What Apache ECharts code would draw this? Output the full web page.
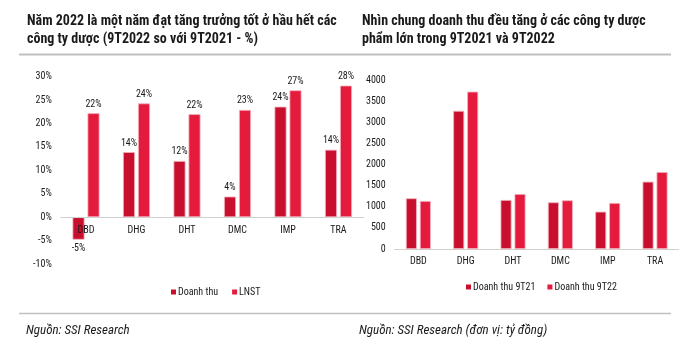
<!DOCTYPE html>
<html>
<head>
<meta charset="utf-8">
<script src="https://cdn.jsdelivr.net/npm/echarts@6/dist/echarts.min.js"></script>
<style>
html,body{margin:0;padding:0;background:#fff;}
#c{width:697px;height:357px;}
</style>
</head>
<body>
<div id="c"></div>
<script>
const categories = ['DBD', 'DHG', 'DHT', 'DMC', 'IMP', 'TRA'];
const growthRevenue = [-4.8, 13.9, 12.0, 4.4, 23.6, 14.4];
const growthProfit = [22.2, 24.3, 22.0, 22.9, 27.1, 28.1];
const revenue9T21 = [1200, 3270, 1160, 1105, 884, 1594];
const revenue9T22 = [1136, 3724, 1302, 1152, 1089, 1822];
const leftTitle = 'Năm 2022 là một năm đạt tăng trưởng tốt ở hầu hết các\ncông ty dược (9T2022 so với 9T2021 - %)';
const rightTitle = 'Nhìn chung doanh thu đều tăng ở các công ty dược\nphẩm lớn trong 9T2021 và 9T2022';
const leftSource = 'Nguồn: SSI Research';
const rightSource = 'Nguồn: SSI Research (đơn vị: tỷ đồng)';

const FONT = "'Liberation Sans Narrow', 'Arial Narrow', 'Roboto Condensed', 'Liberation Sans', sans-serif";
const DARK = '#C8102E';
const BRIGHT = '#E41B3C';
const TXT = '#1a1a1a';

const pctMin = -10, pctMax = 30;
const leftGridHeight = 187.3;

const chart = echarts.init(document.getElementById('c'));

function pctData(arr) {
  return arr.map(v => ({ value: v, label: { position: v < 0 ? 'bottom' : 'top' } }));
}

const barStyle = c => ({ color: c, borderColor: '#f3b3bc', borderWidth: 0.8 });

chart.setOption({
  animation: false,
  textStyle: { fontFamily: FONT },
  grid: [
    { left: 60.75, width: 303, top: 76.7, height: leftGridHeight },
    { left: 394.7, width: 284, top: 80, height: 169 }
  ],
  legend: [
    {
      data: ['Doanh thu', 'LNST'], left: 166, top: 282,
      icon: 'rect', itemWidth: 5, itemHeight: 5, itemGap: 14,
      itemStyle: { borderWidth: 0 },
      textStyle: { fontFamily: FONT, fontSize: 10, color: TXT, padding: [0, 0, 0, -3] }
    },
    {
      data: ['Doanh thu 9T21', 'Doanh thu 9T22'], left: 461, top: 277,
      icon: 'rect', itemWidth: 5, itemHeight: 5, itemGap: 12,
      itemStyle: { borderWidth: 0 },
      textStyle: { fontFamily: FONT, fontSize: 10, color: TXT, padding: [0, 0, 0, -3] }
    }
  ],
  xAxis: [
    {
      type: 'category', gridIndex: 0, data: categories, position: 'bottom', z: 5,
      offset: -leftGridHeight * (0 - pctMin) / (pctMax - pctMin),
      axisLine: { onZero: false, lineStyle: { color: '#d0d0d0' } }, axisTick: { show: false },
      axisLabel: { color: TXT, fontSize: 10, fontFamily: FONT, margin: 8 }
    },
    {
      type: 'category', gridIndex: 1, data: categories,
      axisLine: { lineStyle: { color: '#d0d0d0' } }, axisTick: { show: false },
      axisLabel: { color: TXT, fontSize: 10, fontFamily: FONT, margin: 7 }
    }
  ],
  yAxis: [
    {
      type: 'value', gridIndex: 0, min: pctMin, max: pctMax, interval: 5,
      splitLine: { show: false }, axisLine: { show: false }, axisTick: { show: false },
      axisLabel: { color: TXT, fontSize: 10, fontFamily: FONT, margin: 9, formatter: '{value}%' }
    },
    {
      type: 'value', gridIndex: 1, min: 0, max: 4000, interval: 500,
      splitLine: { show: false }, axisLine: { show: false }, axisTick: { show: false },
      axisLabel: { color: TXT, fontSize: 10, fontFamily: FONT, margin: 9, formatter: v => String(v) }
    }
  ],
  series: [
    {
      name: 'Doanh thu', type: 'bar', xAxisIndex: 0, yAxisIndex: 0,
      data: pctData(growthRevenue), barWidth: 12, barGap: '25%',
      itemStyle: barStyle(DARK),
      label: { show: true, color: TXT, fontSize: 10, fontFamily: FONT, distance: 4,
        formatter: p => Math.round(p.value) + '%' }
    },
    {
      name: 'LNST', type: 'bar', xAxisIndex: 0, yAxisIndex: 0,
      data: pctData(growthProfit), barWidth: 12, barGap: '25%',
      itemStyle: barStyle(BRIGHT),
      label: { show: true, color: TXT, fontSize: 10, fontFamily: FONT, distance: 4,
        formatter: p => Math.round(p.value) + '%' }
    },
    {
      name: 'Doanh thu 9T21', type: 'bar', xAxisIndex: 1, yAxisIndex: 1,
      data: revenue9T21, barWidth: 11, barGap: '27%',
      itemStyle: barStyle(DARK)
    },
    {
      name: 'Doanh thu 9T22', type: 'bar', xAxisIndex: 1, yAxisIndex: 1,
      data: revenue9T22, barWidth: 11, barGap: '27%',
      itemStyle: barStyle(BRIGHT)
    }
  ],
  graphic: [
    { type: 'text', left: 27, top: 12, style: { text: leftTitle, fontFamily: FONT, fontSize: 14, fontWeight: 'bold', lineHeight: 18, fill: TXT } },
    { type: 'text', left: 362, top: 12, style: { text: rightTitle, fontFamily: FONT, fontSize: 14, fontWeight: 'bold', lineHeight: 18, fill: TXT } },
    { type: 'line', shape: { x1: 19, y1: 54.5, x2: 671, y2: 54.5 }, style: { stroke: '#bfbfbf', lineWidth: 2 } },
    { type: 'line', shape: { x1: 19, y1: 313.5, x2: 671, y2: 313.5 }, style: { stroke: '#bfbfbf', lineWidth: 1.5 } },
    { type: 'text', left: 26, top: 324, style: { text: leftSource, fontFamily: FONT, fontSize: 13, fontStyle: 'italic', fill: TXT } },
    { type: 'text', left: 359, top: 324, style: { text: rightSource, fontFamily: FONT, fontSize: 13, fontStyle: 'italic', fill: TXT } }
  ]
});
</script>
</body>
</html>
